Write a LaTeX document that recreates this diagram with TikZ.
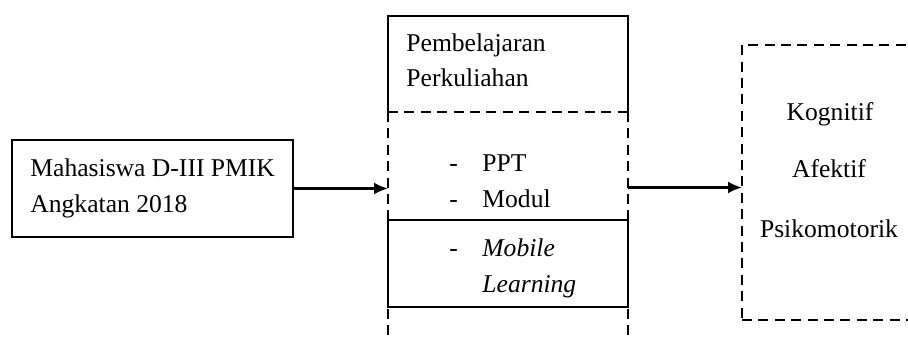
\documentclass[tikz,border=0pt]{standalone}
\usepackage{fontspec}
\setmainfont{Liberation Serif}
\usetikzlibrary{arrows.meta}
\begin{document}
\begin{tikzpicture}[x=0.5pt,y=-0.5pt,
  box/.style={draw=none,inner sep=0pt,outer sep=0pt},
  line/.style={line width=1.2pt,black},
  dashline/.style={line width=1.2pt,black,dash pattern=on 5pt off 3.2pt},
  flow/.style={line width=1.2pt,-{Latex[length=7pt,width=6pt]}},
  txt/.style={anchor=base west,inner sep=0pt,font=\fontsize{12.8pt}{15pt}\selectfont},
  ctxt/.style={anchor=base,inner sep=0pt,font=\fontsize{12.8pt}{15pt}\selectfont}]
\useasboundingbox (0,0) rectangle (908,340);
\begin{scope}
\clip (0,0) rectangle (908,340);

% input box
\node[box,draw,line,minimum width=140.5pt,minimum height=48.5pt] (mhs) at (152.5,188.5) {};
\node[txt] (mhsA) at (30,177) {Mahasiswa D-III PMIK};
\node[txt] (mhsB) at (30,213) {Angkatan 2018};

% lecture box (solid sides, dashed bottom)
\node[box,minimum width=120pt,minimum height=48pt] (pemb) at (508,64) {};
\draw[line] (pemb.south west) -- (pemb.north west) -- (pemb.north east) -- (pemb.south east);
\draw[dashline] (pemb.south west) -- (pemb.south east);
\node[txt] (pembA) at (406,52) {Pembelajaran};
\node[txt] (pembB) at (406,87) {Perkuliahan};

% dashed media column
\node[box,minimum width=120pt,minimum height=120pt] (kolom) at (508,232) {};
\draw[dashline] (kolom.north west) -- (kolom.south west);
\draw[dashline] (kolom.north east) -- (kolom.south east);
\node[txt] (d1) at (449,172) {-};
\node[txt] (ppt) at (482,172) {PPT};
\node[txt] (d2) at (449,208) {-};
\node[txt] (mod) at (482,208) {Modul};

% mobile learning box
\node[box,draw,line,fill=white,minimum width=120pt,minimum height=43.5pt] (mob) at (508,263.5) {};
\node[txt] (d3) at (449,257) {-};
\node[txt] (mobA) at (482,257) {\itshape Mobile};
\node[txt] (mobB) at (482,293) {\itshape Learning};

% outcome box
\node[box,draw,dashline,minimum width=87pt,minimum height=137.5pt] (hasil) at (829,182.5) {};
\node[ctxt] (kog) at (830,121) {Kognitif};
\node[ctxt] (afe) at (829,178) {Afektif};
\node[ctxt] (psi) at (829,238) {Psikomotorik};

% connectors
\draw[flow] (mhs.east) -- (mhs.east -| kolom.west);
\coordinate (outA) at ([yshift=0.5pt]mhs.east -| kolom.east);
\draw[flow] (outA) -- (outA -| hasil.west);
\end{scope}
\end{tikzpicture}
\end{document}
